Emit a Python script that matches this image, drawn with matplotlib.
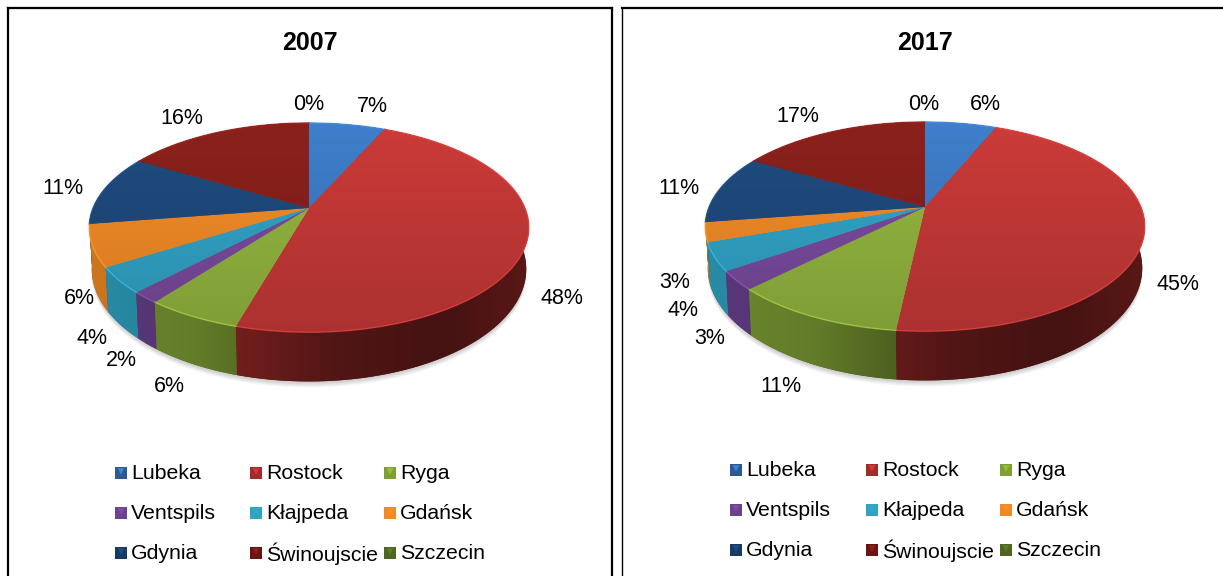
import numpy as np
import matplotlib
matplotlib.use("Agg")
import matplotlib.pyplot as plt
from matplotlib.patches import Polygon

plt.rcParams['font.family'] = ['Liberation Sans', 'DejaVu Sans']

ports = ["Lubeka", "Rostock", "Ryga", "Ventspils", "Kłajpeda", "Gdańsk",
         "Gdynia", "Świnoujscie", "Szczecin"]
# estimated from the slice edges, labels show them rounded
shares_2007 = [6.7, 47.7, 5.9, 1.75, 3.95, 6.45, 10.9, 16.49, 0]
shares_2017 = [6.3, 45.45, 10.75, 2.9, 4.3, 3.0, 10.6, 16.7, 0]

top_colors = ["#3f7fcc", "#cc3b39", "#97bb41", "#7d4da3", "#33a8cc", "#f98f28",
              "#1f4c80", "#8c211c", "#5f7a2a"]
side_colors = ["#2a5a95", "#a32c2a", "#7f9f35", "#6a4290", "#2fa3c2", "#f08a25",
               "#173a64", "#6a1512", "#4f6622"]

# pixel positions of the percent labels, same order as ports
label_xy_2007 = [(372, 107), (562, 298), (169, 386), (121, 360), (92, 338),
                 (79, 298), (63, 189), (182, 119), (309, 105)]
label_xy_2017 = [(985, 105), (1178, 284), (781, 386), (710, 338), (683, 310),
                 (675, 282), (679, 189), (798, 117), (924, 104)]

# perspective of the tilted disc
K = 0.187
RX = 216
RY = 101
H = 40
SHRINK = 0.988


def project(theta, cx, cy, lift=0.0):
    # theta clockwise from 12 o'clock
    X = np.sin(theta)
    Y = np.cos(theta)
    w = 1 + K * Y
    scale = SHRINK if lift else 1.0
    return cx + scale * RX * X / w, cy - RY * Y / w + lift / w


def fill_gradient(ax, verts, color, ramp, vertical, extent, z):
    rgb = np.array(matplotlib.colors.to_rgb(color))
    arr = np.clip(np.outer(ramp, rgb), 0, 1)
    arr = arr.reshape(len(ramp), 1, 3) if vertical else arr.reshape(1, len(ramp), 3)
    base = Polygon(verts, closed=True, fc=rgb * ramp[len(ramp) // 2], ec="none", zorder=z)
    ax.add_patch(base)
    im = ax.imshow(arr, extent=extent, aspect="auto", zorder=z, interpolation="bilinear")
    im.set_clip_path(base)


def draw_pie(ax, shares, cx, cy):
    edges = np.cumsum([0] + list(shares)) / sum(shares) * 2 * np.pi
    box_top = (cx - 225, cx + 225, cy + 180, cy - 90)

    # soft shadow under the disc
    t = np.linspace(0, 2 * np.pi, 200)
    sx, sy = project(t, cx, cy, H)
    for grow in range(1, 7):
        ax.add_patch(Polygon(np.c_[sx, sy + grow], fc="#000000", ec="none",
                             alpha=0.035, zorder=1))

    h_ramp = np.interp(np.linspace(-1, 1, 128), [-1, -0.5, 0.1, 0.6, 1],
                       [0.86, 0.78, 0.5, 0.42, 0.55])
    v_ramp = np.linspace(1.0, 0.8, 128)

    # walls from back to front so the nearer ones cover the others
    mids = (edges[:-1] + edges[1:]) / 2
    for i in np.argsort(-np.cos(mids)):
        if shares[i] == 0:
            continue
        n = max(int(shares[i] * 3), 4)
        t = np.linspace(edges[i], edges[i + 1], n)
        x, y = project(t, cx, cy)
        xb, yb = project(t, cx, cy, H)
        wall = np.r_[np.c_[x, y], np.c_[xb, yb][::-1]]
        fill_gradient(ax, wall, side_colors[i], h_ramp, False, box_top, 2)

    for i, s in enumerate(shares):
        if s == 0:
            continue
        n = max(int(s * 3), 4)
        t = np.linspace(edges[i], edges[i + 1], n)
        x, y = project(t, cx, cy)
        wedge = np.r_[[[cx, cy]], np.c_[x, y]]
        fill_gradient(ax, wedge, top_colors[i], v_ramp, True, box_top, 3)
        # light rim along the edge
        rim = np.clip(np.array(matplotlib.colors.to_rgb(top_colors[i])) * 1.15, 0, 1)
        ax.plot(x, y, color=rim, lw=1.0, alpha=0.7, zorder=4)


def draw_legend(ax, xs, ys):
    for i, name in enumerate(ports):
        mx = xs[i % 3]
        my = ys[i // 3]
        ax.scatter([mx], [my], s=68, marker="s", color=side_colors[i],
                   edgecolors="none", zorder=5)
        ax.scatter([mx], [my - 1.5], s=24, marker="v", color=top_colors[i],
                   edgecolors="none", zorder=6)
        ax.text(mx + 10, my + 0.5, name, fontsize=15.3, ha="left", va="center", zorder=6)


fig = plt.figure(figsize=(12.23, 5.76), dpi=100)
W, H_FIG = 1223, 576


def panel(x0, x1, y0, y1):
    ax = fig.add_axes([x0 / W, 1 - y1 / H_FIG, (x1 - x0) / W, (y1 - y0) / H_FIG])
    ax.set_xticks([])
    ax.set_yticks([])
    for sp in ax.spines.values():
        sp.set_linewidth(1.6)
        sp.set_color("black")
    return ax


ax_left = panel(8, 612, 8, 580)
# right box runs off the picture, its left line is the thin one
ax_right = panel(622, 1230, 8, 580)
ax_right.spines["left"].set_linewidth(1.0)

panels = [
    (ax_left, "2007", shares_2007, label_xy_2007, 309, 208,
     [121, 256, 390], [473, 513, 553], (310, 43)),
    (ax_right, "2017", shares_2017, label_xy_2017, 925, 207,
     [736, 872, 1006], [470, 510, 550], (925, 43)),
]

for ax, title, shares, label_xy, cx, cy, leg_x, leg_y, title_xy in panels:
    xlim = (ax.get_position().x0 * W, ax.get_position().x1 * W)
    ylim = ((1 - ax.get_position().y0) * H_FIG, (1 - ax.get_position().y1) * H_FIG)
    draw_pie(ax, shares, cx, cy)
    for s, (lx, ly) in zip(shares, label_xy):
        ax.text(lx, ly, f"{round(s)}%", fontsize=15.5, ha="center", va="center", zorder=7)
    ax.text(title_xy[0], title_xy[1], title, fontsize=18, fontweight="bold",
            ha="center", va="center", zorder=7)
    draw_legend(ax, leg_x, leg_y)
    ax.set_xlim(*xlim)
    ax.set_ylim(*ylim)

fig.savefig("out.png", dpi=100)
